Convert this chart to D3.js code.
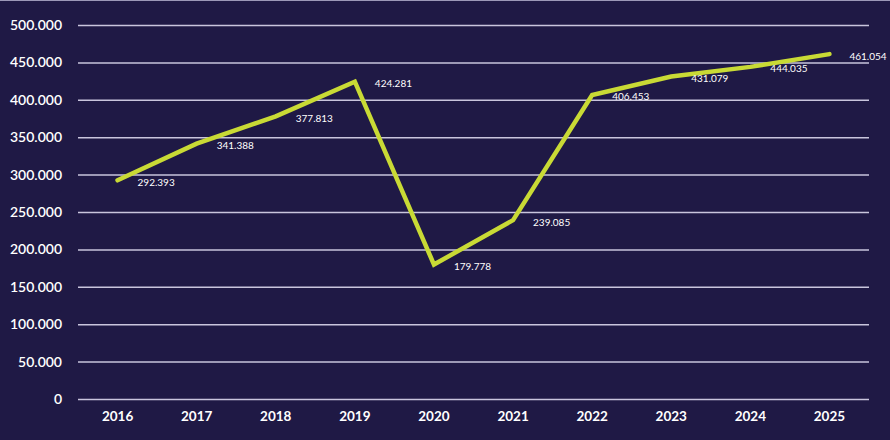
<!DOCTYPE html>
<html><head><meta charset="utf-8">
<script src="https://cdn.jsdelivr.net/npm/d3@7"></script>
<style>
html,body{margin:0;padding:0;background:#1f1945;}
svg{display:block;}
</style></head>
<body>
<svg id="chart" width="890" height="440"></svg>
<script>
const years = ["2016","2017","2018","2019","2020","2021","2022","2023","2024","2025"];
const values = [292393, 341388, 377813, 424281, 179778, 239085, 406453, 431079, 444035, 461054];
const valueLabels = ["292.393","341.388","377.813","424.281","179.778","239.085","406.453","431.079","444.035","461.054"];
const yTicks = [0, 50000, 100000, 150000, 200000, 250000, 300000, 350000, 400000, 450000, 500000];
const yTickLabels = ["0","50.000","100.000","150.000","200.000","250.000","300.000","350.000","400.000","450.000","500.000"];

(function(){
const W = 890, H = 440;
const mLeft = 78, mRight = 869, mTop = 25, mBottom = 399;
const svg = d3.select("#chart");
svg.append("rect").attr("width", W).attr("height", H).attr("fill", "#1f1945");
svg.append("line").attr("x1",0).attr("x2",W).attr("y1",0.5).attr("y2",0.5)
  .attr("stroke","#9c98b8").attr("stroke-width",1);

const x = d3.scaleBand().domain(years).range([mLeft, mRight]);
const y = d3.scaleLinear().domain([0, 500000]).range([mBottom, mTop]);

const font = "Lato, 'Open Sans', sans-serif";

const yAxis = d3.axisLeft(y).tickValues(yTicks)
  .tickFormat((d,i) => yTickLabels[i]).tickSize(-(mRight-mLeft)).tickPadding(16);
const gy = svg.append("g").attr("transform", `translate(${mLeft},0)`).call(yAxis);
gy.select(".domain").remove();
gy.selectAll(".tick line").attr("stroke", "#c9c5dd").attr("stroke-width", 1.5);
gy.selectAll(".tick text").attr("fill", "#ffffff").attr("font-family", font)
  .attr("font-size", 14).attr("font-weight", 600);

const xAxis = d3.axisBottom(x).tickSize(0).tickPadding(12);
const gx = svg.append("g").attr("transform", `translate(0,${mBottom})`).call(xAxis);
gx.select(".domain").remove();
gx.selectAll(".tick text").attr("fill", "#ffffff").attr("font-family", font)
  .attr("font-size", 13.5).attr("font-weight", 700);

const cx = d => x(d) + x.bandwidth()/2;
const data = years.map((yr,i) => ({yr, v: values[i], lab: valueLabels[i]}));

svg.append("path").datum(data)
  .attr("fill","none").attr("stroke","#c9da35").attr("stroke-width",4.5)
  .attr("stroke-linejoin","miter").attr("stroke-linecap","round")
  .attr("d", d3.line().x(d => cx(d.yr)).y(d => y(d.v)));

svg.append("g").selectAll("text").data(data).join("text")
  .attr("x", d => cx(d.yr) + 20)
  .attr("y", d => y(d.v) + 5.5)
  .attr("fill", "#ffffff").attr("font-family", font).attr("font-size", 10)
  .text(d => d.lab);
})();
</script>
</body></html>
